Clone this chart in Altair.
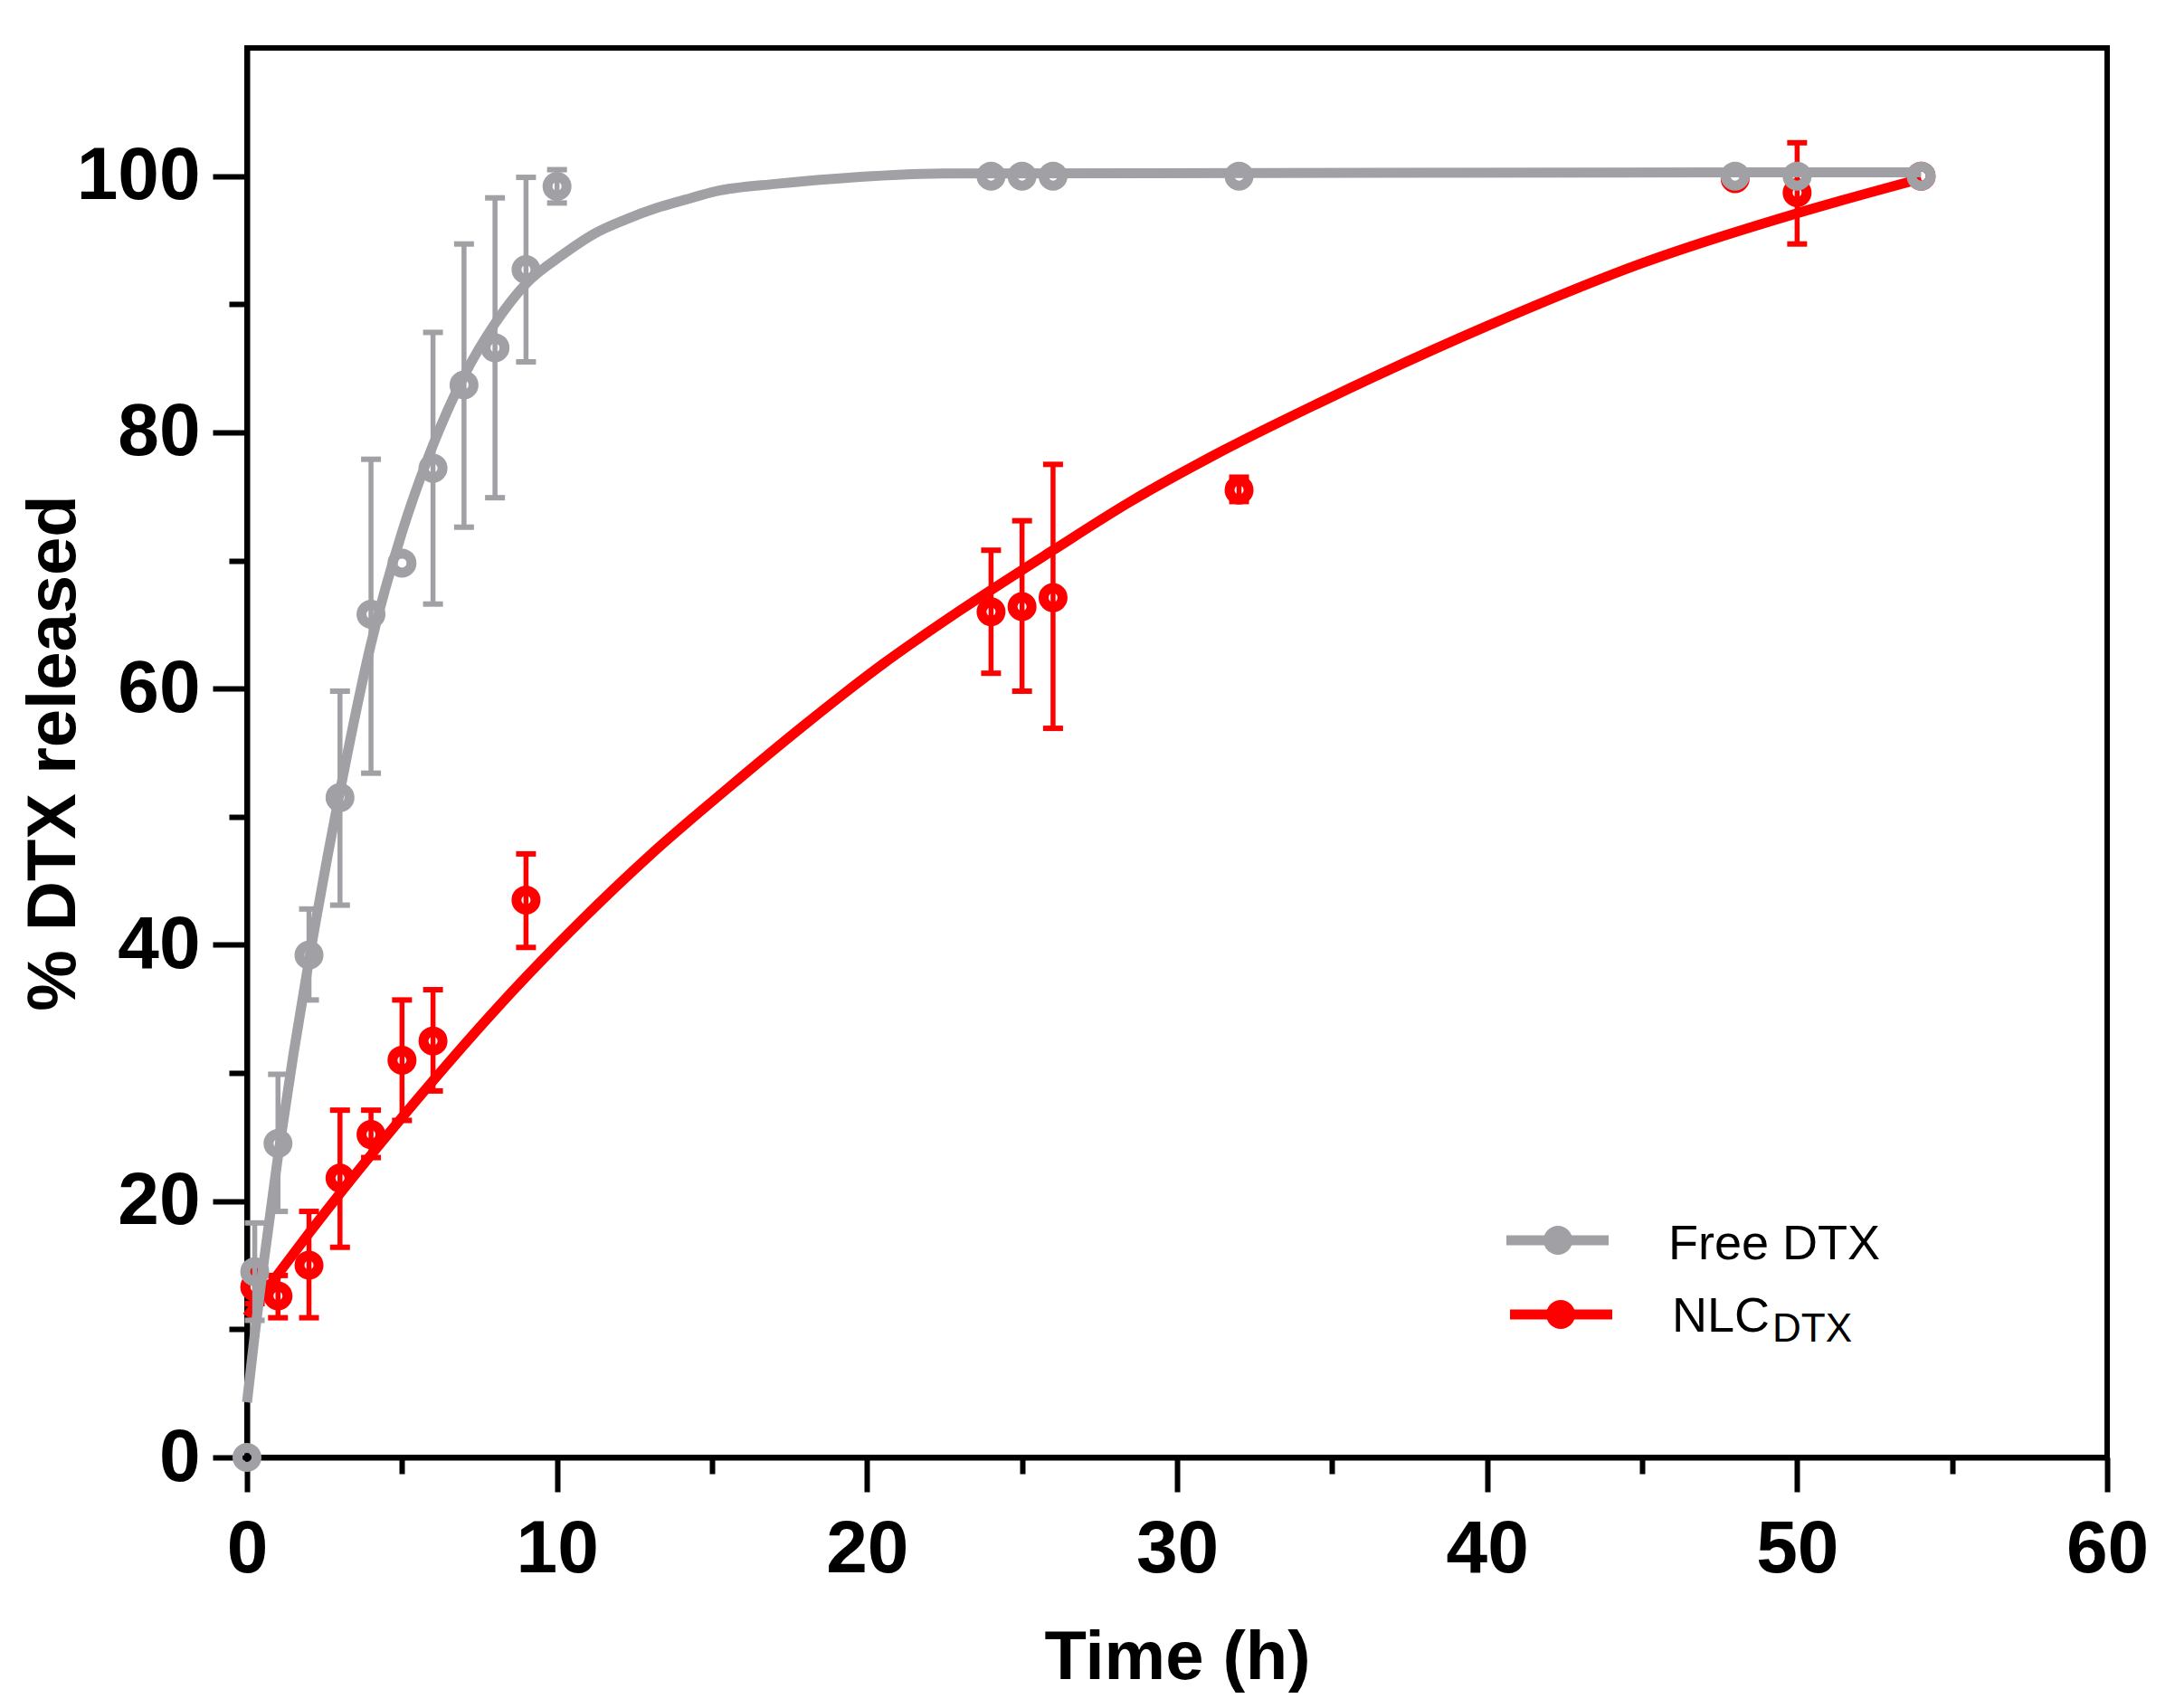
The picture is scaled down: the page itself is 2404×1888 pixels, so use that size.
import pandas as pd
import altair as alt

# measured release data (% DTX released vs time in h)
free_t = [0, 0.25, 1, 2, 3, 4, 5, 6, 7, 8, 9, 10, 24, 25, 26, 32, 48, 50, 54]
free_mean = [0, 14.5, 24.5, 39.2, 51.5, 65.8, 69.8, 77.2, 83.7, 86.6, 92.7, 99.2,
             100, 100, 100, 100, 100, 100, 100]
free_err_t = [0.25, 1, 2, 3, 4, 6, 7, 8, 9, 10]
free_lo = [10.7, 19.2, 35.7, 43.1, 53.4, 66.6, 72.6, 74.9, 85.5, 97.9]
free_hi = [18.3, 29.9, 42.8, 59.8, 77.9, 87.8, 94.7, 98.3, 99.9, 100.5]

nlc_t = [0.25, 1, 2, 3, 4, 5, 6, 9, 24, 25, 26, 32, 48, 50, 54]
nlc_mean = [13.3, 12.6, 15.0, 21.8, 25.2, 31.0, 32.5, 43.5, 66.0, 66.4, 67.1, 75.5,
            99.8, 98.7, 100]
nlc_err_t = [0.25, 1, 2, 3, 4, 5, 6, 9, 24, 25, 26, 32, 50]
nlc_lo = [12.0, 10.9, 10.9, 16.4, 23.4, 26.3, 28.6, 39.8, 61.2, 59.8, 56.9, 74.6, 94.7]
nlc_hi = [14.6, 14.2, 19.2, 27.1, 27.1, 35.7, 36.5, 47.1, 70.8, 73.1, 77.5, 76.5, 102.6]

# fitted curves
free_fit_t = [0, 0.25, 0.5, 1, 1.5, 2, 3, 4, 5, 6, 7, 8, 9, 10.2, 11.2, 12.2, 13.2,
              14.2, 15.1, 17.1, 19, 22.5, 54]
free_fit = [4.3, 9.6, 14.5, 23.5, 31.5, 38.8, 52.0, 63.5, 72.2, 79.0, 84.4, 88.5,
            91.6, 93.9, 95.5, 96.6, 97.5, 98.2, 98.8, 99.4, 99.8, 100.2, 100.3]
nlc_fit_t = [0, 1, 2, 3, 4, 6, 8, 10, 13, 15.5, 18, 20.5, 23, 26, 28.5, 31.5, 34.5,
             40, 45, 50, 54]
nlc_fit = [11.0, 14.3, 17.5, 20.6, 23.6, 29.4, 34.9, 40.0, 47.0, 52.2, 57.2, 61.9,
           66.1, 70.8, 74.6, 78.6, 82.2, 88.3, 93.2, 97.1, 99.8]

legend_labels = ["Free DTX", "NLC"]
legend_sub = ["DTX"]

GRAY = "#a0a0a5"
RED = "#ff0000"
FONT = "Liberation Sans"
W, H = 2056, 1558

free = pd.DataFrame({"t": free_t, "v": free_mean})
free_err = pd.DataFrame({"t": free_err_t, "lo": free_lo, "hi": free_hi})
nlc = pd.DataFrame({"t": nlc_t, "v": nlc_mean})
nlc_err = pd.DataFrame({"t": nlc_err_t, "lo": nlc_lo, "hi": nlc_hi})
free_curve = pd.DataFrame({"t": free_fit_t, "v": free_fit})
nlc_curve = pd.DataFrame({"t": nlc_fit_t, "v": nlc_fit})

xs = alt.Scale(domain=[0, 60], nice=False, zero=False)
ys = alt.Scale(domain=[0, 110], nice=False, zero=False)


def X(axis=None):
    return alt.X("t:Q", scale=xs, axis=axis)


def Y(field="v", axis=None):
    return alt.Y(f"{field}:Q", scale=ys, axis=axis)


x_major = alt.Axis(values=[0, 10, 20, 30, 40, 50, 60], tickSize=38, labelPadding=88,
                   labelBaseline="alphabetic", title="Time (h)", titleY=244,
                   titleX=W / 2, titleAlign="center", titleBaseline="alphabetic",
                   orient="bottom", labelFlush=False, labelOverlap=False)
y_major = alt.Axis(values=[0, 20, 40, 60, 80, 100], tickSize=38, labelPadding=14,
                   title="% DTX released", titleX=-191, titleY=H / 2, titleAngle=270,
                   titleAlign="center", titleBaseline="alphabetic", orient="left",
                   labelFlush=False, labelOverlap=False)
x_minor = alt.Axis(values=[5, 15, 25, 35, 45, 55], tickSize=18, labels=False,
                   domain=False, title=None, orient="bottom")
y_minor = alt.Axis(values=[10, 30, 50, 70, 90], tickSize=20, labels=False,
                   domain=False, title=None, orient="left")


def series(pts, err, curve, color, x_axis=None, y_axis=None):
    rules = alt.Chart(err).mark_rule(color=color, strokeWidth=5.5).encode(
        x=X(), y=Y("lo"), y2="hi:Q")
    cap_lo = alt.Chart(err).mark_tick(color=color, orient="horizontal", size=22,
                                      thickness=6, opacity=1).encode(x=X(), y=Y("lo"))
    cap_hi = alt.Chart(err).mark_tick(color=color, orient="horizontal", size=22,
                                      thickness=6, opacity=1).encode(x=X(), y=Y("hi"))
    line = alt.Chart(curve).mark_line(color=color, strokeWidth=11,
                                      interpolate="monotone").encode(
        x=X(x_axis), y=Y("v", y_axis))
    dots = alt.Chart(pts).mark_point(shape="circle", filled=False, color=color,
                                     size=441, strokeWidth=11, opacity=1).encode(
        x=X(), y=Y())
    return [rules, cap_lo, cap_hi, line, dots]


layers = series(nlc, nlc_err, nlc_curve, RED, x_minor, y_minor)
layers += series(free, free_err, free_curve, GRAY, x_major, y_major)

# legend, drawn by hand so the subscript can be kept
for i, (label, color) in enumerate(zip(legend_labels, [GRAY, RED])):
    yy = 1318 + i * 82
    d = pd.DataFrame({"label": [label]})
    layers.append(alt.Chart(d).mark_rule(color=color, strokeWidth=11).encode(
        x=alt.value(1392 + 4 * i), x2=alt.value(1505 + 4 * i), y=alt.value(yy)))
    layers.append(alt.Chart(d).mark_point(shape="circle", filled=True, color=color,
                                          size=1024, opacity=1).encode(
        x=alt.value(1449 + 3 * i), y=alt.value(yy)))
    layers.append(alt.Chart(d).mark_text(align="left", baseline="alphabetic",
                                         font=FONT, fontSize=54,
                                         color="black").encode(
        x=alt.value(1571 + 4 * i), y=alt.value(yy + 21 - 2 * i), text="label:N"))

sub = pd.DataFrame({"label": legend_sub})
layers.append(alt.Chart(sub).mark_text(align="left", baseline="alphabetic", font=FONT,
                                       fontSize=44, color="black").encode(
    x=alt.value(1686), y=alt.value(1430), text="label:N"))

chart = (alt.layer(*layers)
         .resolve_axis(x="independent", y="independent")
         .properties(width=W, height=H, autosize=alt.AutoSizeParams(type="none"),
                     padding={"left": 265, "top": 45, "right": 60, "bottom": 260})
         .configure_view(stroke="black", strokeWidth=6)
         .configure_axis(domainColor="black", domainWidth=6, tickColor="black",
                         tickWidth=6, grid=False, labelFont=FONT, labelFontSize=82,
                         labelFontWeight="bold", labelColor="black", titleFont=FONT,
                         titleFontSize=76, titleFontWeight="bold", titleColor="black"))

chart.save("out.html", embed_options={"renderer": "svg", "actions": False})
